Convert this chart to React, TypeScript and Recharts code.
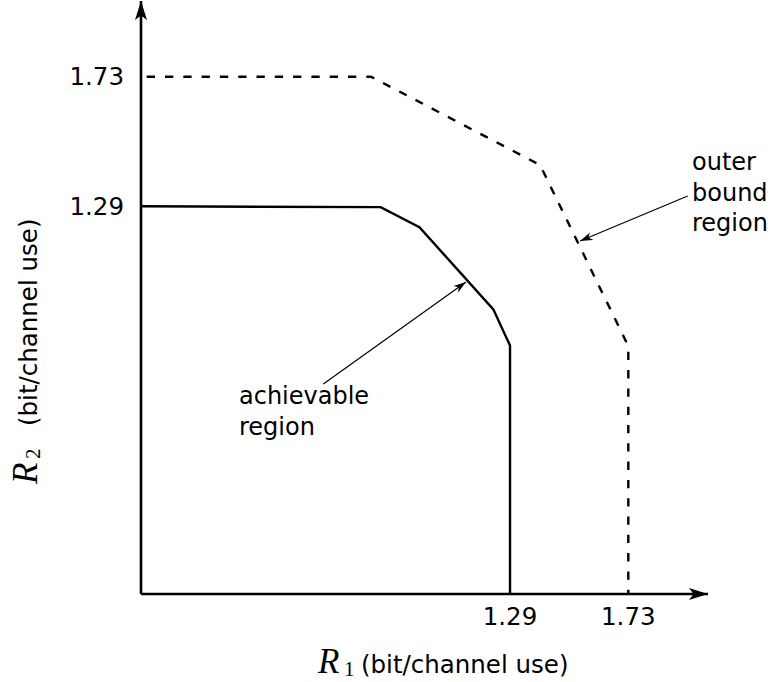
import React from "react";
import { LineChart, Line, XAxis, YAxis } from "recharts";

// Axis range (the two axes meet at the lower-left corner of the plot)
const R1_RANGE: [number, number] = [-0.0825, 2.0264];
const R2_RANGE: [number, number] = [-0.0265, 1.987];

// Tick values shown on both axes
const r1Ticks = [1.29, 1.73];
const r2Ticks = [1.29, 1.73];

// Achievable rate region boundary
const achievableR1 = [-0.0825, 0.809, 0.953, 1.228, 1.29, 1.29];
const achievableR2 = [1.29, 1.287, 1.219, 0.94, 0.817, -0.0265];

// Outer bound region boundary
const outerR1 = [-0.0825, 0.773, 1.402, 1.73, 1.73];
const outerR2 = [1.73, 1.73, 1.43, 0.815, -0.0265];

// Annotation pointers (tail -> head)
const achievablePointerR1 = [0.5956, 1.1263];
const achievablePointerR2 = [0.6866, 1.033];
const outerPointerR1 = [1.951, 1.5504];
const outerPointerR2 = [1.325, 1.172];

const toPoints = (xs: number[], ys: number[]) =>
  xs.map((r1, i) => ({ r1, r2: ys[i] }));

const achievableData = toPoints(achievableR1, achievableR2);
const outerData = toPoints(outerR1, outerR2);
const achievablePointer = toPoints(achievablePointerR1, achievablePointerR2);
const outerPointer = toPoints(outerPointerR1, outerPointerR2);

const SANS = "DejaVu Sans";
const SERIF = "Liberation Serif";

export default function App() {
  return (
    <div style={{ position: "absolute", left: 0, top: 0, background: "#fff" }}>
      <LineChart
        width={771}
        height={682}
        margin={{ top: 1, right: 63, bottom: 58, left: 0 }}
      >
        <defs>
          <marker
            id="axisHead"
            viewBox="0 0 20 14"
            markerWidth={20}
            markerHeight={14}
            refX={19}
            refY={7}
            markerUnits="userSpaceOnUse"
            orient="auto-start-reverse"
          >
            <path d="M0,1 L19,7 L0,13 L4.5,7 Z" fill="#000" />
          </marker>
          <marker
            id="pointerHead"
            viewBox="0 0 13 9"
            markerWidth={13}
            markerHeight={9}
            refX={12.5}
            refY={4.5}
            markerUnits="userSpaceOnUse"
            orient="auto"
          >
            <path d="M0,0.5 L12.5,4.5 L0,8.5 L3.5,4.5 Z" fill="#000" />
          </marker>
        </defs>

        <XAxis
          type="number"
          dataKey="r1"
          domain={R1_RANGE}
          allowDataOverflow
          ticks={r1Ticks}
          interval={0}
          height={30}
          tickLine={false}
          tickSize={0}
          tickMargin={14}
          axisLine={{ stroke: "#000", strokeWidth: 2.6, markerEnd: "url(#axisHead)" }}
          tick={{ fill: "#000", fontSize: 24.5, fontFamily: SANS }}
          tickFormatter={(v: number) => v.toFixed(2)}
        />
        <YAxis
          type="number"
          dataKey="r2"
          domain={R2_RANGE}
          allowDataOverflow
          ticks={r2Ticks}
          interval={0}
          width={141}
          tickLine={false}
          tickSize={0}
          tickMargin={17}
          axisLine={{ stroke: "#000", strokeWidth: 2.6, markerStart: "url(#axisHead)" }}
          tick={{ fill: "#000", fontSize: 24.5, fontFamily: SANS }}
          tickFormatter={(v: number) => v.toFixed(2)}
        />

        <Line
          data={outerData}
          dataKey="r2"
          type="linear"
          stroke="#000"
          strokeWidth={2.4}
          strokeDasharray="8.3 10"
          strokeDashoffset={12.6}
          dot={false}
          activeDot={false}
          isAnimationActive={false}
        />
        <Line
          data={achievableData}
          dataKey="r2"
          type="linear"
          stroke="#000"
          strokeWidth={2.4}
          dot={false}
          activeDot={false}
          isAnimationActive={false}
        />
        <Line
          data={achievablePointer}
          dataKey="r2"
          type="linear"
          stroke="#000"
          strokeWidth={1.2}
          markerEnd="url(#pointerHead)"
          dot={false}
          activeDot={false}
          isAnimationActive={false}
        />
        <Line
          data={outerPointer}
          dataKey="r2"
          type="linear"
          stroke="#000"
          strokeWidth={1.2}
          markerEnd="url(#pointerHead)"
          dot={false}
          activeDot={false}
          isAnimationActive={false}
        />

        <text fontFamily={SANS} fontSize={24} fill="#000">
          <tspan x={239} y={404}>achievable</tspan>
          <tspan x={239} y={435}>region</tspan>
        </text>
        <text fontFamily={SANS} fontSize={24} fill="#000">
          <tspan x={692} y={170}>outer</tspan>
          <tspan x={692} y={200.5}>bound</tspan>
          <tspan x={692} y={231}>region</tspan>
        </text>

        <text y={672.7} fill="#000">
          <tspan x={318} fontFamily={SERIF} fontStyle="italic" fontSize={35}>R</tspan>
          <tspan x={344} y={675.5} fontFamily={SERIF} fontSize={21}>1</tspan>
          <tspan x={361} y={672.7} fontFamily={SANS} fontSize={24.5}>(bit/channel use)</tspan>
        </text>

        <text transform="translate(37,484) rotate(-90)" fill="#000">
          <tspan x={0} y={0} fontFamily={SERIF} fontStyle="italic" fontSize={35}>R</tspan>
          <tspan x={25} y={2.8} fontFamily={SERIF} fontSize={21}>2</tspan>
          <tspan x={58} y={0} fontFamily={SANS} fontSize={24.5}>(bit/channel use)</tspan>
        </text>
      </LineChart>
    </div>
  );
}
